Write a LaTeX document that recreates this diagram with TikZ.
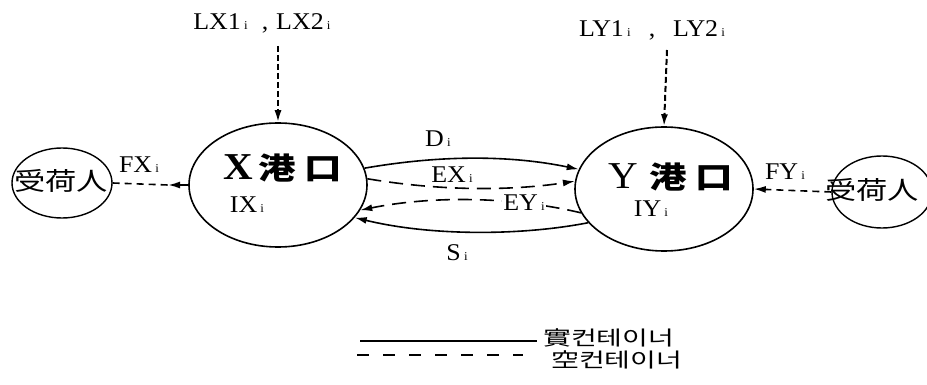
\documentclass[tikz,border=0pt]{standalone}
\usepackage{fontspec}
\setmainfont[FakeStretch=1.08]{Liberation Serif}
\newfontfamily\kr[FakeStretch=1.25]{Noto Sans CJK KR}
\newfontfamily\krw[FakeStretch=1.4]{Noto Sans CJK KR}
\usetikzlibrary{shapes.geometric,arrows.meta}
\newcommand\sbi{{\fontsize{12}{12}\selectfont\ i}}
\begin{document}
\begin{tikzpicture}[x=1pt,y=-1pt,
  port/.style={draw, ellipse, line width=1.6pt, inner sep=0pt, minimum width=178pt, minimum height=124pt},
  ship/.style={draw, ellipse, line width=1.4pt, inner sep=0pt, minimum width=100pt, minimum height=70pt},
  lbl/.style={inner sep=0pt, font=\fontsize{24}{24}\selectfont},
  cjk/.style={inner sep=0pt, font=\kr\fontsize{25}{25}\selectfont},
  legtext/.style={inner sep=0pt, anchor=west, font=\krw\fontsize{20}{20}\selectfont},
  portname/.style={inner sep=0pt},
  fullline/.style={line width=1.6pt},
  emptyline/.style={line width=1.6pt, dash pattern=on 14pt off 8pt},
  shortdash/.style={line width=1.6pt, dash pattern=on 7pt off 5pt},
  vdash/.style={line width=2pt, dash pattern=on 6pt off 3pt},
  tip/.style={-{Latex[length=12pt,width=7pt]}}
]
\useasboundingbox (0,0) rectangle (927,385);
\clip (0,0) rectangle (927,385);

% ellipses
\node[port] (X) at (278,185) {};
\node[port] (Y) at (664,189) {};
\node[ship] (SL) at (62,183) {};
\node[ship, minimum width=100pt, minimum height=72pt] (SR) at (882,192) {};

% texts inside
\node[portname] (Xt) at (283,168) {{\fontsize{38}{38}\selectfont\bfseries X}\hspace{5pt}{\kr\fontsize{30}{30}\selectfont\bfseries 港\hspace{9pt}口}};
\node[portname] (Yt) at (671,177) {{\fontsize{38}{38}\selectfont Y}\hspace{11pt}{\kr\fontsize{30}{30}\selectfont\bfseries 港\hspace{9pt}口}};
\node[lbl] (IX) at (247,205) {IX\sbi};
\node[lbl] (IY) at (651,209) {IY\sbi};
\node[cjk] (SLt) at (61,181) {受荷人};
\node[cjk] (SRt) at (872,190) {受荷人};

% top labels
\node[lbl] (LX) at (262,23) {LX1\sbi\hspace{14pt},\hspace{8pt}LX2\sbi};
\node[lbl] (LY) at (652,30) {LY1\sbi\hspace{18pt},\hspace{18pt}LY2\sbi};
\coordinate (LXs) at (278,46);
\coordinate (LYs) at (667,50);
\draw[vdash, tip] (LXs) -- (X.north);
\draw[vdash, tip] (LYs) -- (Y.north);

% shipper connectors
\node[lbl] (FX) at (139,165) {FX\sbi};
\node[lbl] (FY) at (785,172) {FY\sbi};
\coordinate (FXtip) at (168,185);
\draw[shortdash] (SL.east) -- (FXtip);
\draw[line width=1.8pt, tip] (X.west) -- (FXtip);
\draw[shortdash, tip] (SR.west) -- (Y.east);

% flows between ports
\draw[fullline, tip] (X.11) .. controls (440,155) and (510,155) .. (Y.167);
\draw[emptyline, tip] (X.4) .. controls (440,191) and (510,191) .. (Y.175);
\draw[emptyline, tip] (Y.196) .. controls (510,196) and (430,196) .. (X.-17);
\draw[fullline, tip] (Y.204) .. controls (520,236) and (430,236) .. (X.-23);

\node[lbl] (D) at (438,139) {D\sbi};
\node[lbl] (EX) at (452,175) {EX\sbi};
\node[lbl, fill=white, inner sep=1pt] (EY) at (524,203) {EY\sbi};
\node[lbl] (S) at (457,253) {S\sbi};

% legend
\coordinate (L1a) at (360,341);
\coordinate (L1b) at (537,341);
\coordinate (L2a) at (357,355);
\coordinate (L2b) at (523,355);
\draw[line width=1.4pt] (L1a) -- (L1b);
\draw[line width=1.2pt, dash pattern=on 12pt off 14pt] (L2a) -- (L2b);
\node[legtext] (Lg1) at (543,338) {實컨테이너};
\node[legtext] (Lg2) at (551,360) {空컨테이너};
\end{tikzpicture}
\end{document}
